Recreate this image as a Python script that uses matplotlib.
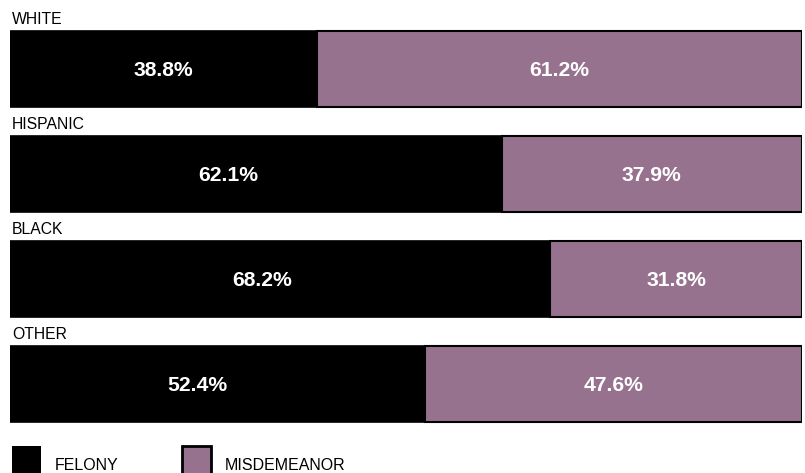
import matplotlib
matplotlib.use("Agg")
import matplotlib.pyplot as plt
from matplotlib.patches import Patch

plt.rcParams['font.family'] = ['Liberation Sans', 'DejaVu Sans']

groups = ["WHITE", "HISPANIC", "BLACK", "OTHER"]
felony = [38.8, 62.1, 68.2, 52.4]
misdemeanor = [61.2, 37.9, 31.8, 47.6]
series_names = ["FELONY", "MISDEMEANOR"]

# layout: where the felony value labels sit (x in percent units, as in the original)
felony_label_x = [19.4, 27.5, 31.8, 23.7]

FEL_COLOR = "#000000"
MIS_COLOR = "#97728F"

fig = plt.figure(figsize=(8.05, 4.73), dpi=100)
ax = fig.add_axes([10/805, 0, 792/805, 1])
ax.set_xlim(0, 100)
ax.set_ylim(3.848, -0.657)
ax.axis("off")

ypos = list(range(len(groups)))
h = 0.719
ax.barh(ypos, felony, height=h, color=FEL_COLOR, edgecolor="black", linewidth=1.2)
ax.barh(ypos, misdemeanor, left=felony, height=h, color=MIS_COLOR, edgecolor="black", linewidth=1.5)

for i, g in enumerate(groups):
    ax.text(0.25, i - 0.43, g, ha="left", va="baseline", fontsize=11.3, color="black")
    f = felony[i]
    m = misdemeanor[i]
    ax.text(felony_label_x[i], i + 0.07, f"{f:.1f}%", ha="center", va="baseline", fontsize=15.2,
            fontweight="bold", color="white")
    ax.text(f + m / 2, i + 0.07, f"{m:.1f}%", ha="center", va="baseline", fontsize=15.2,
            fontweight="bold", color="white")

handles = [Patch(facecolor=FEL_COLOR, edgecolor=FEL_COLOR, linewidth=0),
           Patch(facecolor=MIS_COLOR, edgecolor="black", linewidth=2)]
fig.legend(handles, series_names, loc="upper left",
           bbox_to_anchor=(12/805, 1 - 446/473), frameon=False, ncol=2,
           fontsize=11.5, handlelength=1.8, handleheight=3.3, handletextpad=0.87,
           columnspacing=4.0, borderaxespad=0, borderpad=0)

fig.savefig("out.png", dpi=100)
